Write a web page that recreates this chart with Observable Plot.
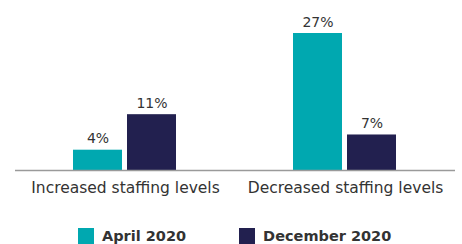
<!DOCTYPE html>
<html>
<head>
<meta charset="utf-8">
<script src="https://cdn.jsdelivr.net/npm/d3@7"></script>
<script src="https://cdn.jsdelivr.net/npm/@observablehq/plot@0.6"></script>
<style>
  html, body { margin: 0; padding: 0; background: #fff; }
  body { width: 462px; height: 244px; overflow: hidden; font-family: "DejaVu Sans", sans-serif; }
  #chart svg { display: block; }
  .legend { display: flex; align-items: center; height: 44px; padding-left: 78px; box-sizing: border-box; padding-top: 27px; }
  .item { display: flex; align-items: center; margin-right: 53px; }
  .sw { width: 16px; height: 16px; margin-right: 8px; }
  .lab { font-weight: 700; font-size: 14.5px; color: #333; }
</style>
</head>
<body>
<div id="chart"></div>
<div class="legend" id="legend"></div>
<script>
const categories = ["Increased staffing levels", "Decreased staffing levels"];
const series = ["April 2020", "December 2020"];
const april = [4, 27];
const december = [11, 7];
const colors = ["#00A8B0", "#22204F"];

const rows = categories.flatMap((c, i) => [
  {cat: c, series: series[0], value: april[i]},
  {cat: c, series: series[1], value: december[i]}
]);

const chart = Plot.plot({
  width: 462,
  height: 200,
  marginLeft: 14,
  marginRight: 7,
  marginTop: 33,
  marginBottom: 30,
  style: {fontFamily: "DejaVu Sans, sans-serif", fontSize: "15.5px", color: "#333", background: "#fff"},
  facet: {data: rows, x: "cat"},
  fx: {domain: categories, padding: 0, label: null, tickSize: 0, tickPadding: 11, axis: "bottom"},
  x: {domain: series, paddingInner: 0.0909, paddingOuter: 1.05, axis: null},
  y: {domain: [0, 27], axis: null},
  color: {domain: series, range: colors},
  marks: [
    Plot.barY(rows, {x: "series", y: "value", fill: "series"}),
    Plot.text(rows, {x: "series", y: "value", text: d => d.value + "%", dy: -7, lineAnchor: "bottom", fontSize: 14, fill: "#333"}),
    Plot.ruleY([0], {stroke: "#9a9a9a", strokeWidth: 1.3})
  ]
});
document.getElementById("chart").appendChild(chart);

const legend = document.getElementById("legend");
series.forEach((s, i) => {
  const item = document.createElement("div");
  item.className = "item";
  const sw = document.createElement("div");
  sw.className = "sw";
  sw.style.background = colors[i];
  const lab = document.createElement("span");
  lab.className = "lab";
  lab.textContent = s;
  item.appendChild(sw);
  item.appendChild(lab);
  legend.appendChild(item);
});
</script>
</body>
</html>
